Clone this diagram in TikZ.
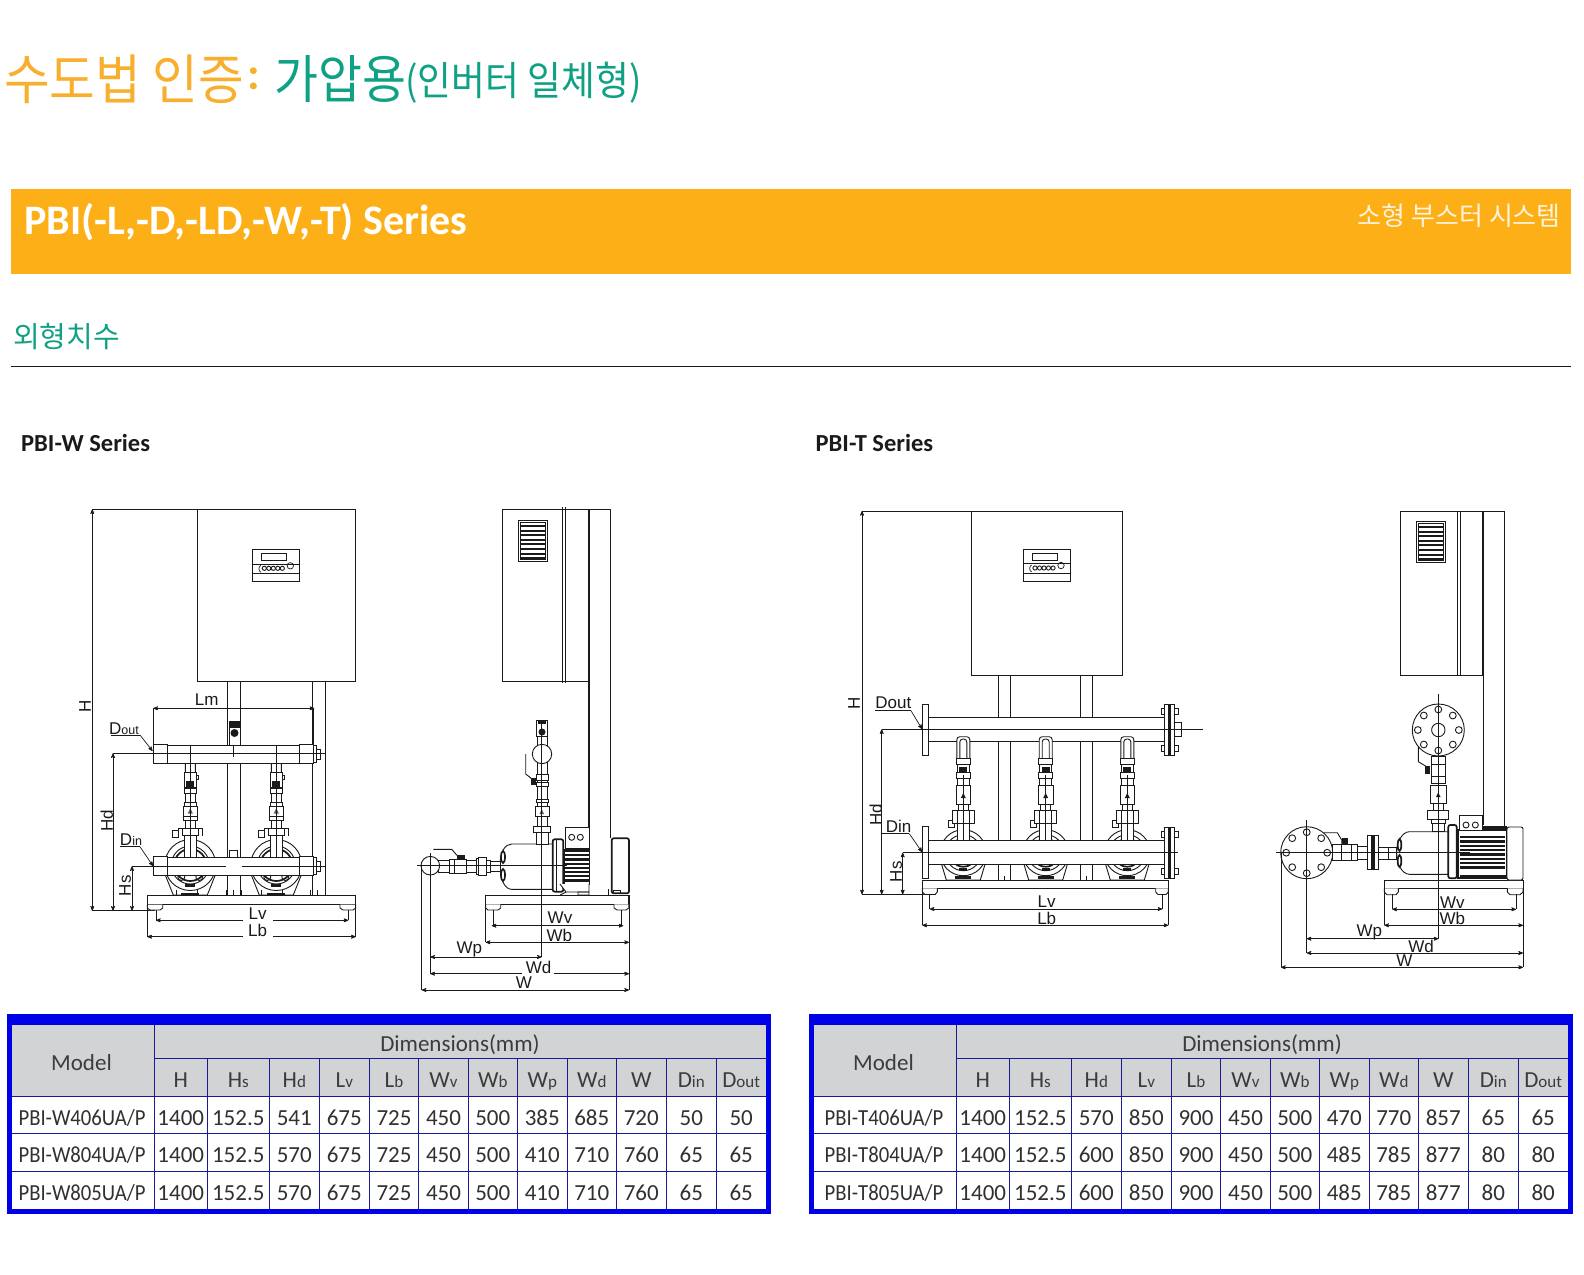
\documentclass[tikz,border=0pt]{standalone}
\usepackage{fontspec}
\setmainfont{Carlito}
\newfontfamily\cjkfont{Noto Sans CJK KR}
\newfontfamily\cjktall[FakeStretch=0.92]{Noto Sans CJK KR}
\newfontfamily\modelfont[FakeStretch=0.9]{Carlito}
\newfontfamily\drawfont{Liberation Sans}
\usetikzlibrary{arrows}

\definecolor{barorange}{HTML}{FDAF17}
\definecolor{titleorange}{HTML}{F7AF2D}
\definecolor{titlegreen}{HTML}{0FA184}
\definecolor{tabblue}{HTML}{0000E6}
\definecolor{tabgrey}{HTML}{D1D3D4}
\definecolor{tabline}{HTML}{1A1A96}
\definecolor{ink}{HTML}{1A1A1A}

\tikzset{
    outl/.style={draw=ink,line width=0.9pt},
    part/.style={outl,fill=white},
    heavy/.style={draw=ink,line width=1.7pt,fill=white},
    slim/.style={draw=ink,line width=0.7pt},
    dim/.style={slim,<->,>=stealth'},
    grid/.style={draw=tabline,line width=0.8pt},
    lbl/.style={inner sep=0pt,text=ink,font=\drawfont\fontsize{17}{17}\selectfont},
    cell/.style={inner sep=0pt,text height=16pt,text depth=5pt,text=ink!90,font=\fontsize{23}{23}\selectfont},
    headcell/.style={cell,text=ink!85},
    modelcell/.style={cell,font=\modelfont\fontsize{23}{23}\selectfont},
}

\newcommand{\hd}[2]{#1{\fontsize{17}{17}\selectfont #2}}
\newcommand{\ld}[2]{#1{\fontsize{12.5}{13}\selectfont #2}}
\def\colx{{154.3,207.3,269.3,319.3,369.3,418.7,468.3,517.3,567.3,616.3,666.3,716.3,766}}
\def\colc{{180.8,238.3,294.3,344.3,394,443.5,492.8,542.3,591.8,641.3,691.3,741.15}}

\newcommand{\tabrow}[4]{
    \node[modelcell] (#1m) at (82,#2) {#3};
    \foreach \v [count=\i from 0] in {#4} {
        \pgfmathsetmacro\xa{\colc[\i]}
        \node[cell] (#1c\i) at (\xa,#2) {\v};
    }
}

\newcommand{\tabframe}[1]{
    \fill[tabblue] (7.3,1014) rectangle (771,1213.5);
    \fill[white] (12,1025) rectangle (766,1209);
    \fill[tabgrey] (12,1025) rectangle (766,1096.7);
    \foreach \y in {1096.7,1133.3,1171.3} \draw[grid] (12,\y) -- (766,\y);
    \draw[grid] (154.3,1058.7) -- (766,1058.7);
    \draw[grid] (154.3,1025) -- (154.3,1209);
    \foreach \i in {1,...,11} {
        \pgfmathsetmacro\xa{\colx[\i]}
        \draw[grid] (\xa,1058.7) -- (\xa,1209);
    }
    \node[headcell] (#1model) at (81.5,1064.5) {Model};
    \node[headcell] (#1dims) at (460,1046) {Dimensions(mm)};
    \foreach \h [count=\i from 0] in {H,\hd{H}{s},\hd{H}{d},\hd{L}{v},\hd{L}{b},\hd{W}{v},\hd{W}{b},\hd{W}{p},\hd{W}{d},W,\hd{D}{in},\hd{D}{out}} {
        \pgfmathsetmacro\xa{\colc[\i]}
        \node[headcell] (#1h\i) at (\xa,1082) {\h};
    }
}

\newcommand{\ctrlbox}[2]{
    \begin{scope}[shift={(#1,#2)}]
        \draw[part] (0,0) rectangle (47.4,32);
        \draw[outl] (0,14.7) -- (47.4,14.7) (0,24) -- (47.4,24);
        \draw[outl] (9,4) rectangle (34.4,11.4);
        \foreach \x in {12,16.5,21,25.5,30} \draw[outl] (\x,19) circle (2.1);
        \draw[slim] (8.5,16) .. controls (6,18) and (6,21) .. (8.5,23);
        \draw[slim] (38,16.5) circle (3.2);
    \end{scope}
}

\newcommand{\ventbox}[2]{
    \begin{scope}[shift={(#1,#2)}]
        \draw[part] (0,0) rectangle (29.4,41.7);
        \draw[outl] (2,2) rectangle (27,39.3);
        \foreach \y in {5,9.6,14.2,18.8,23.4,28,32.6,37.2} \fill[ink] (2,\y) rectangle (27,\y+1.9);
    \end{scope}
}

\newcommand{\wtree}[1]{
    \begin{scope}[shift={(#1,0)}]
        \draw[part] (-25,875) -- (-17,895) -- (17,895) -- (25,875) -- cycle;
        \draw[part] (0,865) circle (25.5);
        \draw[outl] (0,865) circle (19);
        \draw[heavy] (0,865) circle (16);
        \draw[outl] (0,854) circle (3) (-9,877) circle (3.5) (9,877) circle (3.5);
        \fill[ink] (-5,884) rectangle (5,887);
        \fill[ink] (-9,892.5) rectangle (9,895);
        \draw[outl] (-18,830) rectangle (-12,837);
        \draw[outl] (-12,828) -- (12,828) -- (12,836) (-12,828) -- (-12,830);
        \draw[part,rounded corners=2pt] (-5,772) -- (-5,762) -- (5,762) -- (5,772);
        \draw[part] (-6,772) rectangle (6,787);
        \fill[ink] (-4,781) rectangle (4,787);
        \draw[outl] (6,775) -- (8.5,775) -- (8.5,779) -- (6,779);
        \draw[part] (-6,788) rectangle (6,793);
        \draw[part] (-5,793) rectangle (5,802);
        \draw[part] (-6,802) rectangle (6,806);
        \draw[part] (-7,806) rectangle (7,816);
        \fill[ink!70] (-2.5,813.5) -- (2.5,813.5) -- (0,808) -- cycle;
        \draw[part] (-7,816) rectangle (7,820);
        \draw[part] (-5,820) rectangle (5,828);
        \draw[part] (-8,828) rectangle (8,835);
        \draw[part] (-6,835) rectangle (6,857);
        \draw[slim] (0,746) -- (0,857);
    \end{scope}
}

\newcommand{\ttree}[1]{
    \begin{scope}[shift={(#1,0)}]
        \draw[part] (-23,860) -- (-17,880) -- (17,880) -- (23,860) -- cycle;
        \draw[part] (0,852.7) circle (23);
        \draw[outl] (0,852.7) circle (18);
        \draw[heavy] (0,852.7) circle (14);
        \fill[ink] (-8,876) rectangle (8,879);
        \fill[ink] (-4,868) rectangle (4,871);
        \draw[part] (-15,820) rectangle (-9,827);
        \draw[part,rounded corners=3pt] (-6.5,758) -- (-6.5,736.7) -- (6.5,736.7) -- (6.5,758);
        \draw[outl,rounded corners=3pt] (-3.5,758) -- (-3.5,739) -- (3.5,739) -- (3.5,758);
        \draw[part] (-7,758) rectangle (7,764);
        \draw[part] (-6,764) rectangle (6,772);
        \fill[ink] (-4,767) rectangle (4,772);
        \draw[part] (-7,772) rectangle (7,778);
        \draw[part] (-6,778) rectangle (6,785);
        \draw[part] (-7.3,785) rectangle (7.3,804.3);
        \fill[ink] (-2.5,798) -- (2.5,798) -- (0,793) -- cycle;
        \draw[part] (-5,804.3) rectangle (5,810);
        \draw[part] (-11,810) rectangle (11,823.3);
        \draw[outl] (-6,810) -- (-6,823.3) (6,810) -- (6,823.3);
        \draw[part] (-6,823.3) rectangle (6,841);
        \draw[slim] (0,775) -- (0,841);
    \end{scope}
}

\newcommand{\flangeface}[2]{
    \begin{scope}[shift={(#1,#2)}]
        \draw[part] (0,0) circle (26);
        \foreach \a in {0,45,...,315} \draw[outl] (\a:20.5) circle (3.4);
    \end{scope}
}

\newcommand{\tflange}[2]{
    \draw[part] (#1,#2+1) rectangle (#1+10,#2+52);
    \fill[ink] (#1+3.5,#2+1) rectangle (#1+6.5,#2+52);
    \foreach \b in {7.5,45} {
        \draw[part] (#1-3,#2+\b-3) rectangle (#1,#2+\b+3);
        \draw[part] (#1+10,#2+\b-3) rectangle (#1+14,#2+\b+3);
    }
}

\begin{document}
\begin{tikzpicture}[x=1pt,y=-1pt]
\useasboundingbox (0,0) rectangle (1584,1274);

% heading
\node[inner sep=0pt,anchor=west,text=titleorange,font=\cjktall\fontsize{54}{54}\selectfont] (titleA) at (4,79) {수도법 인증};
\node[inner sep=0pt,text=titleorange,font=\bfseries\fontsize{46}{46}\selectfont] (titleB) at (254,79) {:};
\node[inner sep=0pt,anchor=west,text=titlegreen,font=\cjktall\fontsize{52}{52}\selectfont] (titleC) at (274,79) {가압용};
\node[inner sep=0pt,anchor=west,text=titlegreen,font=\cjktall\fontsize{40}{40}\selectfont] (titleD) at (405,83) {(인버터 일체형)};

\fill[barorange] (11,189) rectangle (1571,274);
\node[inner sep=0pt,anchor=west,text=white,font=\bfseries\fontsize{42}{42}\selectfont] (barL) at (24,222) {PBI(-L,-D,-LD,-W,-T) Series};
\node[inner sep=0pt,anchor=east,text=white!85!barorange,font=\cjkfont\fontsize{26}{26}\selectfont] (barR) at (1561,216) {소형 부스터 시스템};

\node[inner sep=0pt,anchor=west,text=titlegreen,font=\cjkfont\fontsize{29}{29}\selectfont] (outer) at (13,337) {외형치수};
\draw[slim] (11,366.5) -- (1571,366.5);

\node[inner sep=0pt,anchor=west,text=ink,font=\bfseries\fontsize{24.5}{24}\selectfont] (serW) at (21,443) {PBI-W Series};
\node[inner sep=0pt,anchor=west,text=ink,font=\bfseries\fontsize{24.5}{24}\selectfont] (serT) at (815.5,443) {PBI-T Series};

% W front
\draw[outl] (92.3,509.3) -- (197.3,509.3);
\draw[slim] (92.3,910.7) -- (155,910.7);
\draw[part] (197.3,509.3) rectangle (355.7,681.3);
\ctrlbox{252.3}{549.3}
\draw[outl] (227.3,681.3) -- (227.3,895) (240.3,681.3) -- (240.3,895);
\draw[outl] (312.3,681.3) -- (312.3,895) (325.7,681.3) -- (325.7,895);
\draw[line width=1.5pt,draw=ink] (313.3,708) -- (313.3,745);
\wtree{190.3}
\wtree{276.3}
\draw[part] (229.3,721) rectangle (240,745);
\fill[ink] (229.3,721) rectangle (240,728);
\fill[ink] (234.5,733) circle (4);
\draw[part] (229.3,850.7) rectangle (237.7,857);
\foreach \y/\ya/\yb in {745/744.3/763.3,857/856.7/875.3} {
    \draw[part] (167,\y) rectangle (299.3,\y+18);
    \draw[part] (153.3,\ya) rectangle (167.7,\yb);
    \draw[part] (299.3,\ya) rectangle (313.3,\yb);
    \draw[part] (313.3,\ya+1) rectangle (316,\yb-1);
    \draw[part] (316,\y+4) rectangle (320.7,\y+14);
}
\draw[slim] (190.3,745) -- (190.3,763) (276.3,745) -- (276.3,763) (233.3,745) -- (233.3,757);
\draw[slim] (113,753.3) -- (325.7,753.3);
\draw[slim] (132,866.3) -- (225.7,866.3) (242,866.3) -- (325.7,866.3);
\draw[part] (147.3,895.3) rectangle (355.7,904.7);
\draw[part] (147.3,904.7) -- (147.3,908) -- (150,910) -- (160,910) -- (162.7,908) -- (162.7,904.7);
\draw[part] (340,904.7) -- (340,908) -- (343,910) -- (353,910) -- (355.7,908) -- (355.7,904.7);
\foreach \x in {176,197,226,233.3,241,261,282,310,317} \draw[slim] (\x,890) -- (\x,895);

\draw[dim] (92.3,509.3) -- (92.3,910.7);
\draw[dim] (113,753.3) -- (113,910.7);
\draw[dim] (132,866.3) -- (132,910.7);
\draw[dim] (153.3,708.3) -- (314.3,708.3);
\draw[slim] (153.3,708.3) -- (153.3,745);
\draw[slim] (156,910) -- (156,920.3) (348.3,910) -- (348.3,920.3);
\draw[slim] (147.3,904) -- (147.3,936.7) (355.7,904) -- (355.7,936.7);
\draw[slim,<-,>=stealth'] (156,920.3) -- (243.3,920.3);
\draw[slim,->,>=stealth'] (273,920.3) -- (348.3,920.3);
\draw[slim,<-,>=stealth'] (147.3,936.7) -- (243.3,936.7);
\draw[slim,->,>=stealth'] (273,936.7) -- (355.7,936.7);
\draw[slim] (110.7,735) -- (140,735);
\draw[slim,->,>=stealth'] (140,735) -- (152.5,751);
\draw[slim] (120,846.7) -- (140,846.7);
\draw[slim,->,>=stealth'] (140,846.7) -- (153,866);

\node[lbl,rotate=90] (wfH) at (85,706) {H};
\node[lbl,rotate=90] (wfHd) at (106.7,821) {Hd};
\node[lbl,rotate=90] (wfHs) at (125,885.7) {Hs};
\node[lbl] (wfLm) at (206.7,700) {Lm};
\node[lbl] (wfDout) at (124,729) {\ld{D}{out}};
\node[lbl] (wfDin) at (131,840) {\ld{D}{in}};
\node[lbl] (wfLv) at (257.7,914) {Lv};
\node[lbl] (wfLb) at (257.7,930) {Lb};

% W side
\draw[part] (502.3,509.3) rectangle (589,681.3);
\draw[outl] (562.7,507) -- (562.7,683) (565.3,507) -- (565.3,683);
\ventbox{518.3}{520}
\draw[outl] (589,509.3) -- (610.7,509.3) -- (610.7,838);
\draw[line width=1.4pt,draw=ink] (589,509.3) -- (589,828);
\draw[part] (485.7,895.3) rectangle (628.7,904.3);
\draw[part] (485.7,904.3) -- (485.7,908) -- (488,910) -- (498,910) -- (500.7,908) -- (500.7,904.3);
\draw[part] (614,904.3) -- (614,908) -- (617,910) -- (626,910) -- (628.7,908) -- (628.7,904.3);
\draw[part] (511.7,844) .. controls (505,844) and (500,852) .. (500,865.7) .. controls (500,880) and (505,889.3) .. (511.7,889.3) -- (553.3,889.3) -- (553.3,844) -- cycle;
\draw[heavy] (503,857) ellipse (2 and 6) (503,875) ellipse (2 and 6);
\draw[heavy,rounded corners=2pt] (552.7,839.3) rectangle (563.3,891.7);
\draw[outl] (556,840) -- (556,891);
\draw[part] (565,827.3) rectangle (589,848.3);
\draw[outl] (571.7,837.3) circle (3) (580.3,837.3) circle (3);
\draw[part] (564,849.3) rectangle (589.7,884);
\foreach \y in {850,854.2,858.4,862.6,866.8,871,875.2,879.4} \fill[ink] (564,\y) rectangle (589.7,\y+2.2);
\draw[part] (560,884) -- (566,892) -- (589,892) -- (589,884);
\draw[outl] (560,895) -- (566,892) (578,892) rectangle (589,895);
\draw[heavy,rounded corners=2pt] (611.7,838.3) rectangle (629,893.3);
\draw[outl] (613.3,890) rectangle (620,893);
\draw[outl] (608.5,889) -- (608.5,895);
\draw[part] (536,844) rectangle (548,832.7);
\draw[part] (533.3,826) rectangle (550.7,832.7);
\draw[part] (537,816.7) rectangle (547,826);
\draw[part] (535,806) rectangle (549,816.7);
\fill[ink!70] (539.5,814) -- (544,814) -- (541.7,809) -- cycle;
\draw[part] (537,802) rectangle (547,806);
\draw[part] (536,799) rectangle (548,802);
\draw[part] (537,786) rectangle (547,799);
\draw[part] (536,782) rectangle (548,786);
\draw[part] (537,780) rectangle (547,782);
\draw[part] (536,774) rectangle (548,780);
\draw[part] (537,736) rectangle (547,774);
\draw[part] (542,754) circle (9.7);
\draw[part] (536.7,720.7) rectangle (547.7,736.7);
\fill[ink] (538,720.7) rectangle (546,724);
\fill[ink] (542,732) circle (3.5);
\draw[outl] (525.7,754) -- (525.7,774) -- (533.3,780) -- (536,780);
\fill[ink] (531,778) rectangle (536,785);
\draw[part] (438,860) rectangle (449.3,872);
\draw[part] (430.3,865.7) circle (9.3);
\draw[part] (449.3,859) rectangle (466,873);
\draw[outl] (454,859) -- (454,873);
\draw[outl] (433.3,849.3) -- (451.7,849.3) -- (456.7,855) -- (459,857);
\fill[ink] (457,855) rectangle (465,859);
\draw[part] (466,860) rectangle (476,872);
\draw[part] (476,858) rectangle (478.3,874);
\draw[part] (478.3,857) rectangle (486,875);
\draw[part] (486,860) rectangle (490.7,872);
\draw[part] (490.7,861) rectangle (500,871);

\draw[slim] (417.3,865.7) -- (567,865.7);
\draw[slim] (430.3,853.3) -- (430.3,973.7) (421.7,866) -- (421.7,990);
\draw[slim] (541.7,721) -- (541.7,957);
\draw[slim] (629,895) -- (629,990);
\draw[slim] (485.7,904) -- (485.7,942.3) (493.3,910) -- (493.3,925.7) (621.7,910) -- (621.7,925.7);
\draw[dim] (491.7,925.7) -- (623.3,925.7);
\draw[dim] (485.7,942.3) -- (629,942.3);
\draw[dim] (430.3,957) -- (541.7,957);
\draw[slim,<-,>=stealth'] (430.3,973.7) -- (521.7,973.7);
\draw[slim,->,>=stealth'] (554,973.7) -- (629,973.7);
\draw[dim] (421.7,990) -- (629,990);
\node[lbl] (wsWv) at (560,917.3) {Wv};
\node[lbl] (wsWb) at (559.3,935) {Wb};
\node[lbl] (wsWp) at (469.3,949.5) {Wp};
\node[lbl] (wsWd) at (538.5,967) {Wd};
\node[lbl] (wsW) at (524,983) {W};

% T front
\draw[outl] (862,511) -- (971,511);
\draw[slim] (862,894.3) -- (936,894.3);
\draw[part] (971,511) rectangle (1122,675);
\ctrlbox{1023}{549}
\draw[outl] (998,675) -- (998,880) (1010.7,675) -- (1010.7,880);
\draw[outl] (1080,675) -- (1080,880) (1092.7,675) -- (1092.7,880);
\draw[part] (928,717.7) rectangle (1164.3,741.7);
\draw[part] (922.3,704) rectangle (928.3,755.3);
\tflange{1164.3}{703.5}
\draw[part] (1174.3,722.7) rectangle (1181.7,736.7);
\ttree{963.3}
\ttree{1045.7}
\ttree{1127.3}
\draw[part] (928,840) rectangle (1164.3,864.3);
\draw[part] (922.3,826.7) rectangle (928.3,878);
\tflange{1164.3}{826.5}
\draw[slim] (881.7,729.3) -- (1203,729.3);
\draw[slim] (902.7,852.7) -- (1178.3,852.7);
\draw[part] (922.3,880) rectangle (1168.3,888.3);
\draw[part] (922.3,888.3) -- (922.3,892) -- (925,894.5) -- (935,894.5) -- (937.3,892) -- (937.3,888.3);
\draw[part] (1155.7,888.3) -- (1155.7,892) -- (1158,894.5) -- (1166,894.5) -- (1168.3,892) -- (1168.3,888.3);
\foreach \x in {998,1004.3,1010.7,1080,1086.3,1092.7} \draw[slim] (\x,876) -- (\x,880);

\draw[dim] (862,511) -- (862,894.3);
\draw[dim] (881.7,729.3) -- (881.7,894.3);
\draw[dim] (902.7,852.7) -- (902.7,894.3);
\draw[slim] (929.7,894) -- (929.7,909) (1162.3,894) -- (1162.3,909);
\draw[slim] (922.3,888) -- (922.3,925.3) (1168.3,888) -- (1168.3,925.3);
\draw[dim] (929.7,909) -- (1162.3,909);
\draw[dim] (922.3,925.3) -- (1168.3,925.3);
\draw[slim] (875,710.7) -- (911,710.7);
\draw[slim,->,>=stealth'] (911,710.7) -- (922,729);
\draw[slim] (881.7,833.7) -- (909.3,833.7);
\draw[slim,->,>=stealth'] (909.3,833.7) -- (922,852);

\node[lbl,rotate=90] (tfH) at (854,703.3) {H};
\node[lbl,rotate=90] (tfHd) at (875.7,815) {Hd};
\node[lbl,rotate=90] (tfHs) at (896,871.7) {Hs};
\node[lbl] (tfDout) at (893.3,703) {Dout};
\node[lbl] (tfDin) at (898.5,826.5) {Din};
\node[lbl] (tfLv) at (1046.7,902) {Lv};
\node[lbl] (tfLb) at (1046.7,918.5) {Lb};

% T side
\draw[part] (1400,511) rectangle (1482.3,675);
\draw[outl] (1457.3,511) -- (1457.3,676) (1460.7,511) -- (1460.7,676);
\ventbox{1416}{521}
\draw[outl] (1482.3,511) -- (1504.3,511) -- (1504.3,830);
\draw[line width=1.3pt,draw=ink] (1483.3,511) -- (1483.3,825);
\draw[part] (1384.3,880.7) rectangle (1523,888.3);
\draw[part] (1384.3,888.3) -- (1384.3,892) -- (1387,894.7) -- (1396,894.7) -- (1398.3,892) -- (1398.3,888.3);
\draw[part] (1507.3,888.3) -- (1507.3,892) -- (1510,894.7) -- (1520,894.7) -- (1523,892) -- (1523,888.3);
\draw[part] (1409.3,831.7) .. controls (1402,832) and (1396.7,842) .. (1396.7,852.7) .. controls (1396.7,864) and (1402,874) .. (1409.3,874.3) -- (1448.3,874.3) -- (1448.3,831.7) -- cycle;
\draw[heavy] (1399.5,845) ellipse (1.8 and 6) (1399.5,861) ellipse (1.8 and 6);
\draw[heavy,rounded corners=2pt] (1448.3,825) rectangle (1456.7,878.3);
\draw[heavy] (1458,830) rectangle (1506.7,878);
\draw[part] (1459.3,815) rectangle (1482.3,830);
\draw[outl] (1466,825) circle (3) (1475.3,825) circle (3);
\fill[ink] (1483,826) rectangle (1506.7,831);
\foreach \y in {836,840.3,844.6,848.9,853.2,857.5,861.8,866.1} \fill[ink] (1460,\y) rectangle (1505,\y+2.4);
\fill[ink] (1460,875) rectangle (1506.7,878);
\draw[part,rounded corners=2pt] (1507,827) rectangle (1523,880);

\draw[part] (1432.3,823.3) rectangle (1444.3,831.7);
\draw[part] (1427.3,810) rectangle (1448.3,819);
\draw[part] (1431,819) rectangle (1445.3,823.3);
\draw[part] (1433,803.3) rectangle (1443.3,810);
\draw[part] (1430.7,785) rectangle (1446,803.3);
\fill[ink] (1436,797) -- (1440.5,797) -- (1438.2,792.5) -- cycle;
\draw[part] (1431.7,756.7) rectangle (1445,783.3);
\draw[outl] (1431.7,764) -- (1445,764) (1431.7,776) -- (1445,776);
\flangeface{1438.3}{730}
\draw[outl] (1438.3,730) circle (6.7);
\draw[outl] (1418.3,746.7) -- (1418.3,761.7) -- (1426.7,766.7);
\fill[ink] (1424.5,766) rectangle (1429.5,774);

\flangeface{1306.7}{852.7}
\draw[part] (1332.7,844) rectangle (1357.3,860.7);
\draw[outl] (1341,844) -- (1341,860.7) (1351,844) -- (1351,860.7);
\draw[outl] (1324,832.7) -- (1337.3,832.7) -- (1341.7,840) -- (1341.7,844);
\fill[ink] (1342,838) rectangle (1348,844);
\draw[part] (1357.3,846) rectangle (1367.3,859.3);
\draw[part] (1367.3,835.7) rectangle (1378.3,869);
\fill[ink] (1371,835.7) rectangle (1374.5,869);
\draw[part] (1378.3,847) rectangle (1396.7,859);
\draw[outl] (1388,847) -- (1388,859);

\draw[slim] (1276,852.7) -- (1470,852.7);
\draw[slim] (1306.7,820) -- (1306.7,953);
\draw[slim] (1281,852.7) -- (1281,967.3);
\draw[slim] (1438.3,694) -- (1438.3,938.7);
\draw[slim] (1523,888) -- (1523,967.3);
\draw[slim] (1384.3,888) -- (1384.3,925.3) (1392.3,894) -- (1392.3,909.3) (1516,894) -- (1516,909.3);
\draw[dim] (1392.3,909.3) -- (1516,909.3);
\draw[dim] (1384.3,925.3) -- (1523,925.3);
\draw[dim] (1306.7,938.7) -- (1438.3,938.7);
\draw[dim] (1306.7,953) -- (1523,953);
\draw[dim] (1281,967.3) -- (1523,967.3);
\node[lbl] (tsWv) at (1452.3,902.3) {Wv};
\node[lbl] (tsWb) at (1452.3,918.7) {Wb};
\node[lbl] (tsWp) at (1369.3,932.5) {Wp};
\node[lbl] (tsWd) at (1421,946) {Wd};
\node[lbl] (tsW) at (1404.3,961) {W};

% tables
\begin{scope}
\tabframe{w}
\tabrow{wa}{1119.5}{PBI-W406UA/P}{1400,152.5,541,675,725,450,500,385,685,720,50,50}
\tabrow{wb}{1157.2}{PBI-W804UA/P}{1400,152.5,570,675,725,450,500,410,710,760,65,65}
\tabrow{wc}{1195.2}{PBI-W805UA/P}{1400,152.5,570,675,725,450,500,410,710,760,65,65}
\end{scope}
\begin{scope}[shift={(802,0)}]
\tabframe{t}
\tabrow{ta}{1119.5}{PBI-T406UA/P}{1400,152.5,570,850,900,450,500,470,770,857,65,65}
\tabrow{tb}{1157.2}{PBI-T804UA/P}{1400,152.5,600,850,900,450,500,485,785,877,80,80}
\tabrow{tc}{1195.2}{PBI-T805UA/P}{1400,152.5,600,850,900,450,500,485,785,877,80,80}
\end{scope}

\end{tikzpicture}
\end{document}
